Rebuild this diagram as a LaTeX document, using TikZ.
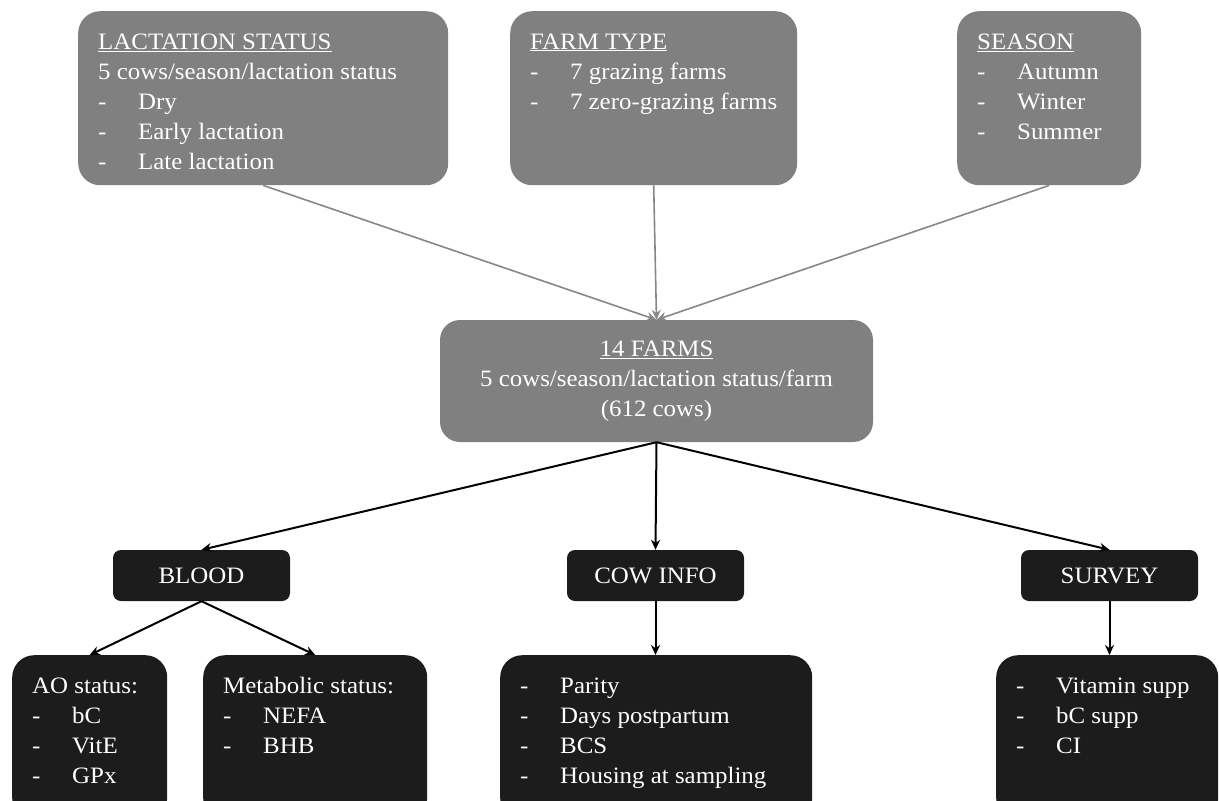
\documentclass[tikz,border=0pt]{standalone}
\usepackage{fontspec}
\setmainfont{Liberation Serif}[FakeStretch=1.06]
\usepackage{tikz}
\usetikzlibrary{arrows.meta}

\definecolor{boxgray}{RGB}{128,128,128}
\definecolor{boxblack}{RGB}{28,28,28}
\definecolor{linegray}{RGB}{135,135,135}

\newcommand{\bul}{\makebox[40pt][l]{-}}
\newcommand{\panel}[3]{\parbox[c][#2][t]{#1}{\fontsize{23.5}{30}\selectfont\rule{0pt}{38pt}#3}}

\tikzset{
  graybox/.style={fill=boxgray, text=white, rounded corners=22pt, inner xsep=20pt, inner ysep=0pt, anchor=north west},
  blackbox/.style={fill=boxblack, text=white, rounded corners=22pt, inner xsep=20pt, inner ysep=0pt, anchor=north west},
  tagbox/.style={fill=boxblack, text=white, rounded corners=8pt, minimum width=177pt, minimum height=51pt, font=\fontsize{23.5}{30}\selectfont},
  grayarrow/.style={-{Stealth[length=10pt,width=9pt]}, draw=linegray, line width=1.6pt},
  blackarrow/.style={-{Stealth[length=10pt,width=9pt]}, draw=black, line width=2pt}
}

\begin{document}
\begin{tikzpicture}[x=1pt,y=-1pt]
\useasboundingbox (0,0) rectangle (1219,801);
\clip (0,0) rectangle (1219,801);

\node[graybox] (lact) at (78,11)
{\panel{330pt}{174pt}{\underline{LACTATION STATUS}\\5 cows/season/lactation status\\\bul Dry\\\bul Early lactation\\\bul Late lactation}};

\node[graybox] (farmtype) at (510,11)
{\panel{247pt}{174pt}{\underline{FARM TYPE}\\\bul 7 grazing farms\\\bul 7 zero-grazing farms}};

\node[graybox] (season) at (957,11)
{\panel{144pt}{174pt}{\underline{SEASON}\\\bul Autumn\\\bul Winter\\\bul Summer}};

\node[fill=boxgray, text=white, rounded corners=20pt, minimum width=433pt, minimum height=122pt,
  align=center, font=\fontsize{23.5}{30}\selectfont] (farms) at (656.5,381)
{\underline{14 FARMS}\\5 cows/season/lactation status/farm\\(612 cows)};

\node[tagbox] (blood) at (201.5,575.5) {BLOOD};
\node[tagbox] (cowinfo) at (655.5,575.5) {COW INFO};
\node[tagbox] (survey) at (1109.5,575.5) {SURVEY};

\node[blackbox] (ao) at (12,655)
{\panel{115pt}{165pt}{AO status:\\\bul bC\\\bul VitE\\\bul GPx}};

\node[blackbox] (metab) at (203,655)
{\panel{184pt}{165pt}{Metabolic status:\\\bul NEFA\\\bul BHB}};

\node[blackbox] (cowdet) at (500,655)
{\panel{272pt}{165pt}{\bul Parity\\\bul Days postpartum\\\bul BCS\\\bul Housing at sampling}};

\node[blackbox] (survdet) at (996,655)
{\panel{182pt}{165pt}{\bul Vitamin supp\\\bul bC supp\\\bul CI}};

\draw[grayarrow] (lact.south) -- (farms.north);
\draw[grayarrow] (farmtype.south) -- (farms.north);
\draw[grayarrow] (season.south) -- (farms.north);

\draw[blackarrow] (farms.south) -- (blood.north);
\draw[blackarrow] (farms.south) -- (cowinfo.north);
\draw[blackarrow] (farms.south) -- (survey.north);

\draw[blackarrow] (blood.south) -- (ao.north);
\draw[blackarrow] (blood.south) -- (metab.north);
\draw[blackarrow] (cowinfo.south) -- (cowinfo.south |- cowdet.north);
\draw[blackarrow] (survey.south) -- (survey.south |- survdet.north);
\end{tikzpicture}
\end{document}
